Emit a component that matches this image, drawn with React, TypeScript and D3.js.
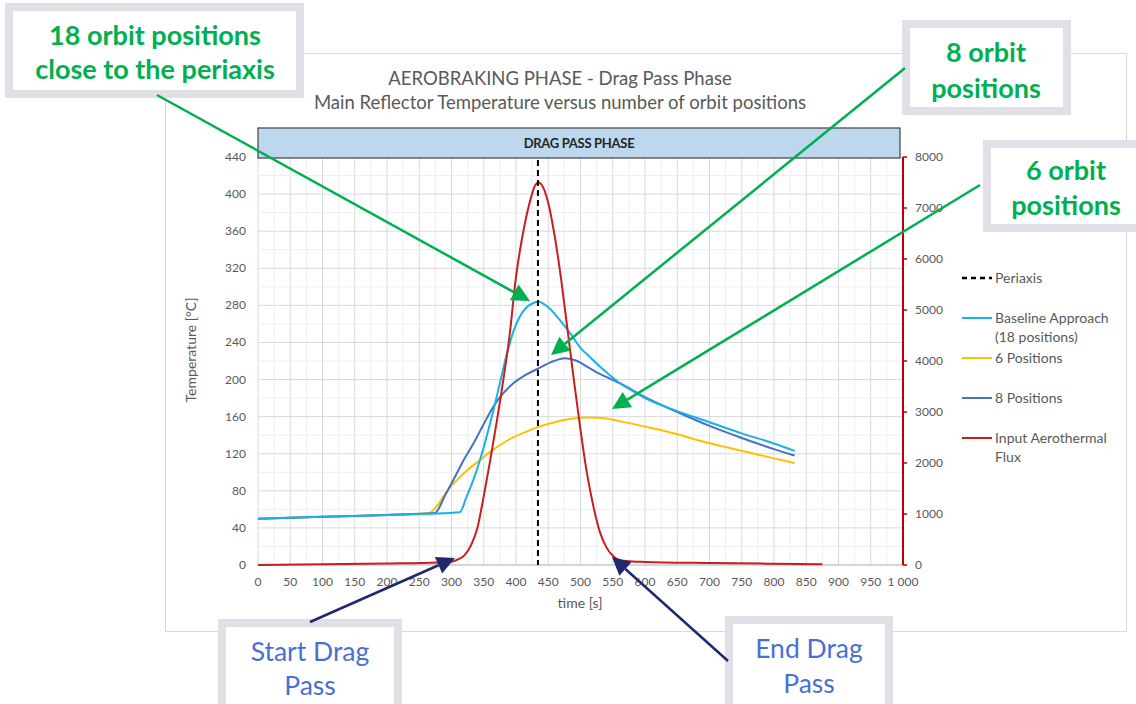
import React from "react";
import * as d3 from "d3";

// ---- data (time [s], value) ----
const fluxTime = [0, 100, 200, 280, 300, 310, 320, 330, 340, 350, 360, 370, 380, 390, 400, 410, 420, 430, 435, 440, 450, 460, 470, 480, 490, 500, 510, 520, 530, 540, 550, 560, 580, 600, 700, 800, 875];
const fluxValue = [0, 15, 30, 50, 65, 110, 190, 380, 720, 1350, 2050, 2800, 3600, 4500, 5650, 6450, 7050, 7450, 7500, 7450, 7100, 6450, 5600, 4600, 3600, 2650, 1800, 1150, 650, 350, 180, 100, 70, 60, 40, 25, 15];

const base18Time = [0, 100, 200, 313, 323, 334, 344, 355, 365, 375, 386, 396, 406, 420, 435, 450, 468, 485, 499, 515, 530, 545, 561, 580, 600, 650, 700, 750, 800, 832];
const base18Value = [50, 52, 54, 57, 73, 92, 113, 140, 167, 196, 228, 252, 268, 280, 284, 278, 264, 249, 235, 224, 214, 205, 196, 188, 180, 166, 154, 142, 131, 123];

const pos8Time = [0, 100, 200, 274, 290, 303, 318, 334, 350, 365, 380, 396, 415, 435, 455, 476, 495, 510, 530, 561, 600, 650, 700, 750, 800, 832];
const pos8Value = [50, 52, 54, 56, 75, 92, 112, 131, 152, 171, 185, 196, 205, 212, 219, 223, 220, 214, 206, 196, 181, 165, 150, 137, 125, 118];

const pos6Time = [0, 100, 200, 264, 298, 324, 344, 360, 386, 410, 435, 460, 489, 515, 540, 561, 608, 650, 685, 720, 763, 800, 832];
const pos6Value = [50, 52, 54, 56, 84, 102, 113, 122, 134, 142, 149, 154, 158, 159, 158, 155, 148, 141, 134, 128, 121, 115, 110];

const periaxisTime = 434;

const leftTicks = [0, 40, 80, 120, 160, 200, 240, 280, 320, 360, 400, 440];
const rightTicks = [0, 1000, 2000, 3000, 4000, 5000, 6000, 7000, 8000];
const xTicks = [0, 50, 100, 150, 200, 250, 300, 350, 400, 450, 500, 550, 600, 650, 700, 750, 800, 850, 900, 950, 1000];
const xTickLabels = ["0", "50", "100", "150", "200", "250", "300", "350", "400", "450", "500", "550", "600", "650", "700", "750", "800", "850", "900", "950", "1 000"];

const titleLines = ["AEROBRAKING PHASE - Drag Pass Phase", "Main Reflector Temperature versus number of orbit positions"];
const legendItems = [
  { label: ["Periaxis"], color: "#000000", dash: "5,4", y: 278 },
  { label: ["Baseline Approach", "(18 positions)"], color: "#1ab0ec", dash: "", y: 318 },
  { label: ["6 Positions"], color: "#ffc000", dash: "", y: 358 },
  { label: ["8 Positions"], color: "#4472c4", dash: "", y: 398 },
  { label: ["Input Aerothermal", "Flux"], color: "#c81e1e", dash: "", y: 438 },
];

const FONT = "Lato, 'Open Sans', sans-serif";

export default function App() {
  const W = 1136, H = 704;
  const x = d3.scaleLinear().domain([0, 1000]).range([258, 903]);
  const yL = d3.scaleLinear().domain([0, 440]).range([565, 157]);
  const yR = d3.scaleLinear().domain([0, 8000]).range([565, 157]);

  const lineL = (ts: number[], vs: number[]) =>
    d3.line<number>().x((_, i) => x(ts[i])).y((v) => yL(v)).curve(d3.curveMonotoneX)(vs) || "";
  const lineR = (ts: number[], vs: number[]) =>
    d3.line<number>().x((_, i) => x(ts[i])).y((v) => yR(v)).curve(d3.curveMonotoneX)(vs) || "";

  const minorX = d3.range(0, 1001, 25);
  const minorY = d3.range(0, 441, 20);

  const arrow = (x1: number, y1: number, x2: number, y2: number, color: string, w: number, len: number, half: number) => {
    const a = Math.atan2(y2 - y1, x2 - x1);
    const bx = x2 - len * Math.cos(a), by = y2 - len * Math.sin(a);
    const px = -Math.sin(a), py = Math.cos(a);
    return (
      <g>
        <line x1={x1} y1={y1} x2={bx} y2={by} stroke={color} strokeWidth={w} />
        <polygon points={`${x2},${y2} ${bx + px * half},${by + py * half} ${bx - px * half},${by - py * half}`} fill={color} />
      </g>
    );
  };

  const box = (bx: number, by: number, bw: number, bh: number) => (
    <rect x={bx} y={by} width={bw} height={bh} fill="#ffffff" stroke="#e0e0e6" strokeWidth={8} />
  );

  return (
    <div style={{ position: "absolute", left: 0, top: 0 }}>
      <svg width={W} height={H} style={{ display: "block", background: "#fff" }}>
        {/* chart border */}
        <rect x={165.5} y={53.5} width={961} height={578} fill="#fff" stroke="#d9d9d9" strokeWidth={1} />

        {/* title */}
        {titleLines.map((t, i) => (
          <text key={i} x={560} y={85 + i * 24} textAnchor="middle" fontFamily={FONT} fontSize={18.5} fill="#595959">{t}</text>
        ))}

        {/* grid */}
        {minorX.map((v) => (
          <line key={"gx" + v} x1={x(v)} x2={x(v)} y1={157} y2={565} stroke={v % 50 === 0 ? "#d9d9d9" : "#eeeeee"} strokeWidth={1} />
        ))}
        {minorY.map((v) => (
          <line key={"gy" + v} x1={258} x2={903} y1={yL(v)} y2={yL(v)} stroke={v % 40 === 0 ? "#d9d9d9" : "#eeeeee"} strokeWidth={1} />
        ))}
        <line x1={258} x2={903} y1={565} y2={565} stroke="#bfbfbf" strokeWidth={1} />

        {/* header bar */}
        <rect x={258} y={128} width={642} height={30} fill="#bdd7ee" stroke="#404040" strokeWidth={1.2} />
        <text x={579} y={147.5} textAnchor="middle" fontFamily={FONT} fontWeight="bold" fontSize={13} fill="#262626" letterSpacing={-0.3}>DRAG PASS  PHASE</text>

        {/* left ticks */}
        {leftTicks.map((v) => (
          <text key={"l" + v} x={246} y={yL(v) + 4} textAnchor="end" fontFamily={FONT} fontSize={12} fill="#595959">{v}</text>
        ))}
        {/* right axis */}
        <line x1={903} x2={903} y1={157} y2={565} stroke="#c00000" strokeWidth={2} />
        {rightTicks.map((v) => (
          <g key={"r" + v}>
            <line x1={903} x2={907} y1={yR(v)} y2={yR(v)} stroke="#c00000" strokeWidth={1.5} />
            <text x={915} y={yR(v) + 4} fontFamily={FONT} fontSize={12} fill="#595959">{v}</text>
          </g>
        ))}
        {/* bottom ticks */}
        {xTicks.map((v, i) => (
          <text key={"x" + v} x={x(v)} y={586} textAnchor="middle" fontFamily={FONT} fontSize={12} fill="#595959">{xTickLabels[i]}</text>
        ))}
        <text x={580} y={608} textAnchor="middle" fontFamily={FONT} fontSize={14} fill="#595959">time [s]</text>
        <text transform="translate(196,350) rotate(-90)" textAnchor="middle" fontFamily={FONT} fontSize={14} fill="#595959">Temperature [°C]</text>

        {/* series */}
        <path d={lineL(pos6Time, pos6Value)} fill="none" stroke="#ffc000" strokeWidth={2} />
        <path d={lineL(pos8Time, pos8Value)} fill="none" stroke="#4472c4" strokeWidth={2} />
        <path d={lineL(base18Time, base18Value)} fill="none" stroke="#1ab0ec" strokeWidth={2} />
        <path d={lineR(fluxTime, fluxValue)} fill="none" stroke="#c81e1e" strokeWidth={2} />
        <line x1={x(periaxisTime)} x2={x(periaxisTime)} y1={160} y2={565} stroke="#000" strokeWidth={2} strokeDasharray="6,4" />

        {/* legend */}
        {legendItems.map((it, i) => (
          <g key={"lg" + i}>
            <line x1={962} x2={992} y1={it.y} y2={it.y} stroke={it.color} strokeWidth={it.dash ? 2.5 : 2} strokeDasharray={it.dash || undefined} />
            {it.label.map((s, j) => (
              <text key={j} x={995} y={it.y + 5 + j * 19} fontFamily={FONT} fontSize={14} fill="#595959">{s}</text>
            ))}
          </g>
        ))}

        {/* annotation boxes */}
        {box(9, 7, 291, 87)}
        <text x={155} y={45} textAnchor="middle" fontFamily={FONT} fontWeight="bold" fontSize={27} fill="#00b050">18 orbit positions</text>
        <text x={155} y={79} textAnchor="middle" fontFamily={FONT} fontWeight="bold" fontSize={27} fill="#00b050">close to the periaxis</text>

        {box(906, 24, 161, 87)}
        <text x={986} y={62} textAnchor="middle" fontFamily={FONT} fontWeight="bold" fontSize={27} fill="#00b050">8 orbit</text>
        <text x={986} y={98} textAnchor="middle" fontFamily={FONT} fontWeight="bold" fontSize={27} fill="#00b050">positions</text>

        {box(987, 144, 170, 84)}
        <text x={1066} y={180} textAnchor="middle" fontFamily={FONT} fontWeight="bold" fontSize={27} fill="#00b050">6 orbit</text>
        <text x={1066} y={215} textAnchor="middle" fontFamily={FONT} fontWeight="bold" fontSize={27} fill="#00b050">positions</text>

        {box(222, 623, 176, 95)}
        <text x={310} y={661} textAnchor="middle" fontFamily={FONT} fontSize={26.5} fill="#4a6fd3">Start Drag</text>
        <text x={310} y={695} textAnchor="middle" fontFamily={FONT} fontSize={26.5} fill="#4a6fd3">Pass</text>

        {box(729, 620, 160, 95)}
        <text x={809} y={658} textAnchor="middle" fontFamily={FONT} fontSize={26.5} fill="#4a6fd3">End Drag</text>
        <text x={809} y={693} textAnchor="middle" fontFamily={FONT} fontSize={26.5} fill="#4a6fd3">Pass</text>

        {/* arrows */}
        {arrow(157, 95, 530, 301, "#00b050", 2.5, 18, 9)}
        {arrow(905, 68, 551, 355, "#00b050", 2.5, 18, 9)}
        {arrow(980, 185, 612, 409, "#00b050", 2.5, 18, 9)}
        {arrow(310, 622, 455, 558, "#1f2a6e", 2.5, 18, 9)}
        {arrow(728, 661, 612, 557, "#1f2a6e", 2.5, 18, 9)}
      </svg>
    </div>
  );
}
